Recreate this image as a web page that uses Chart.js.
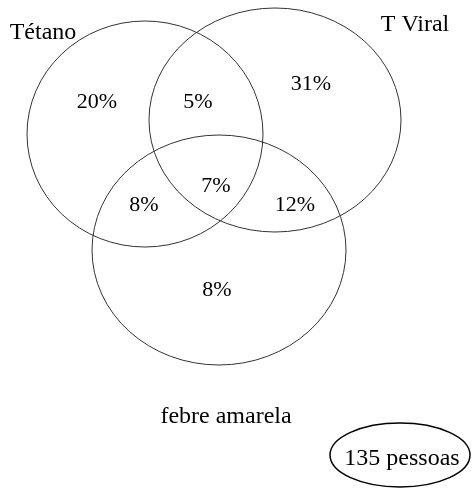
<!DOCTYPE html>
<html>
<head>
<meta charset="utf-8">
<script src="https://cdn.jsdelivr.net/npm/chart.js@4.4.1/dist/chart.umd.min.js"></script>
<style>
  body { margin: 0; background: #fff; }
  #wrap { width: 472px; height: 490px; }
</style>
</head>
<body>
<div id="wrap"><canvas id="venn"></canvas></div>
<script>
// data
const setNames = ['Tétano', 'T Viral', 'febre amarela'];
const regionNames = ['só Tétano', 'Tétano e T Viral', 'só T Viral', 'Tétano e febre', 'os três', 'T Viral e febre', 'só febre'];
const regionValues = [20, 5, 31, 8, 7, 12, 8];
const totalLabel = '135 pessoas';

// layout (chart units = px of the 472x490 picture, y going down)
const circles = [
  { x: 145, y: 134, rx: 118, ry: 113 },
  { x: 275, y: 120, rx: 126, ry: 112 },
  { x: 219, y: 250, rx: 127, ry: 115 }
];
const regionPos = [
  { x: 97, y: 108 }, { x: 198, y: 108 }, { x: 311, y: 90 },
  { x: 144, y: 211 }, { x: 216, y: 192 }, { x: 295, y: 211 },
  { x: 217, y: 296 }
];
const setNamePos = [{ x: 43, y: 39 }, { x: 415, y: 31 }, { x: 226, y: 423 }];
const totalPos = { x: 402, y: 465, rx: 70, ry: 32, cy: 455 };

const serif = '"Liberation Serif", "Times New Roman", serif';

const vennPlugin = {
  id: 'venn',
  afterDatasetsDraw(chart) {
    const ctx = chart.ctx;
    const xs = chart.scales.x, ys = chart.scales.y;
    ctx.save();

    // the three sets
    ctx.strokeStyle = '#333';
    ctx.lineWidth = 1;
    circles.forEach(c => {
      const cx = xs.getPixelForValue(c.x), cy = ys.getPixelForValue(c.y);
      const rx = xs.getPixelForValue(c.x + c.rx) - cx;
      const ry = ys.getPixelForValue(c.y + c.ry) - cy;
      ctx.beginPath();
      ctx.ellipse(cx, cy, rx, ry, 0, 0, Math.PI * 2);
      ctx.stroke();
    });

    ctx.fillStyle = '#000';
    ctx.textAlign = 'center';
    ctx.textBaseline = 'alphabetic';

    // percentages, at the points of the dataset
    ctx.font = '22px ' + serif;
    chart.getDatasetMeta(0).data.forEach((pt, i) => {
      ctx.fillText(regionValues[i] + '%', pt.x, pt.y);
    });

    // set names
    ctx.font = '24px ' + serif;
    setNames.forEach((name, i) => {
      ctx.fillText(name, xs.getPixelForValue(setNamePos[i].x), ys.getPixelForValue(setNamePos[i].y));
    });

    // total in its own ellipse
    const tx = xs.getPixelForValue(totalPos.x);
    ctx.fillText(totalLabel, tx, ys.getPixelForValue(totalPos.y));
    ctx.strokeStyle = '#000';
    ctx.lineWidth = 1.5;
    ctx.beginPath();
    ctx.ellipse(xs.getPixelForValue(400), ys.getPixelForValue(totalPos.cy),
      xs.getPixelForValue(400 + totalPos.rx) - xs.getPixelForValue(400),
      ys.getPixelForValue(totalPos.cy + totalPos.ry) - ys.getPixelForValue(totalPos.cy),
      0, 0, Math.PI * 2);
    ctx.stroke();

    ctx.restore();
  }
};

new Chart(document.getElementById('venn'), {
  type: 'scatter',
  data: {
    datasets: [{
      label: 'regiões',
      data: regionPos.map((p, i) => ({ x: p.x, y: p.y, v: regionValues[i], name: regionNames[i] })),
      pointRadius: 0,
      pointHoverRadius: 0
    }]
  },
  options: {
    responsive: true,
    maintainAspectRatio: false,
    animation: false,
    layout: { padding: 0 },
    plugins: { legend: { display: false }, tooltip: { enabled: false } },
    scales: {
      x: { type: 'linear', min: 0, max: 472, display: false },
      y: { type: 'linear', min: 0, max: 490, reverse: true, display: false }
    }
  },
  plugins: [vennPlugin]
});
</script>
</body>
</html>
